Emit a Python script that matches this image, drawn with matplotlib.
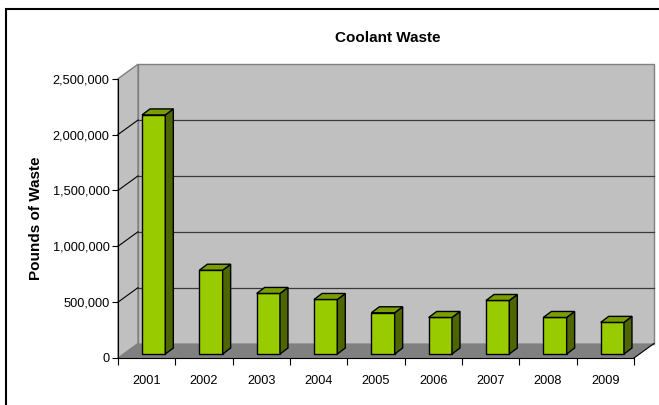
import matplotlib.pyplot as plt
from matplotlib.patches import Polygon, Rectangle
from matplotlib.ticker import FuncFormatter, FixedLocator

plt.rcParams['font.family'] = ['Liberation Sans', 'DejaVu Sans']

years = ['2001', '2002', '2003', '2004', '2005', '2006', '2007', '2008', '2009']
waste = [2140000, 750000, 542000, 488000, 369000, 327000, 479000, 327000, 283000]
yticks = [0, 500000, 1000000, 1500000, 2000000, 2500000]

W, H = 659, 405
fig = plt.figure(figsize=(W / 100, H / 100), dpi=100)

# front plane of the 3d box, in pixels
x0, x1, yb, yt = 118, 634, 358, 78.7
ax = fig.add_axes([x0 / W, 1 - yb / H, (x1 - x0) / W, (yb - yt) / H])
ax.set_xlim(-0.5, len(years) - 0.5)
ax.set_ylim(0, 2500000)
ax.patch.set_visible(False)
for s in ['top', 'right']:
    ax.spines[s].set_visible(False)
ax.spines['left'].set_color('black')
ax.spines['bottom'].set_color('black')
ax.spines['left'].set_zorder(6)
ax.spines['bottom'].set_zorder(6)

# depth of the box and bars, in data units
px_x = (len(years)) / (x1 - x0)
px_y = 2500000 / (yb - yt)
DX, DY = 20 * px_x, 14.5 * px_y
bx, by = 7 * px_x, 4 * px_y
bdx, bdy = 8 * px_x, 6 * px_y
bw = 23.3 * px_x

xl, xr = -0.5, len(years) - 0.5
ytop = 2500000
wall = '#C0C0C0'
edge = '#808080'

# back wall
ax.add_patch(Rectangle((xl + DX, DY), xr - xl, ytop, fc=wall, ec=edge, lw=1, zorder=0, clip_on=False))
# side wall
ax.add_patch(Polygon([(xl, 0), (xl, ytop), (xl + DX, ytop + DY), (xl + DX, DY)],
                     closed=True, fc=wall, ec=edge, lw=1, zorder=0, clip_on=False))
# floor
ax.add_patch(Polygon([(xl, 0), (xr, 0), (xr + DX, DY), (xl + DX, DY)],
                     closed=True, fc='#808080', ec='none', zorder=1, clip_on=False))
ax.plot([xr, xr + DX], [0, DY], color='black', lw=0.8, zorder=2, clip_on=False)

# gridlines
for v in yticks[1:-1]:
    ax.plot([xl + DX, xr + DX], [v + DY, v + DY], color='#3a3a3a', lw=0.9, zorder=1, clip_on=False)
    ax.plot([xl, xl + DX], [v, v + DY], color='black', lw=0.8, zorder=1, clip_on=False)

# bars
xs = list(range(len(years)))
front = ax.bar([x + bx for x in xs], waste, bottom=by, width=bw, color='#99CC00',
               edgecolor='black', linewidth=1, zorder=4, clip_on=False)
for x, v in zip(xs, waste):
    l = x + bx - bw / 2
    r = x + bx + bw / 2
    t = by + v
    ax.add_patch(Polygon([(r, by), (r + bdx, by + bdy), (r + bdx, t + bdy), (r, t)],
                         closed=True, fc='#4D6600', ec='black', lw=1, zorder=4, clip_on=False))
    ax.add_patch(Polygon([(l, t), (r, t), (r + bdx, t + bdy), (l + bdx, t + bdy)],
                         closed=True, fc='#7A9E00', ec='black', lw=1, zorder=4, clip_on=False))

# ticks
ax.yaxis.set_major_locator(FixedLocator(yticks))
ax.yaxis.set_major_formatter(FuncFormatter(lambda v, p: f'{int(v):,}'))
ax.tick_params(axis='y', direction='out', length=4, width=0.8, pad=2, labelsize=9.2)
ax.set_xticks(xs)
ax.set_xticklabels(years)
ax.set_xticks([x - 0.5 for x in xs] + [xr], minor=True)
ax.tick_params(axis='x', which='major', length=0, pad=12, labelsize=9.2)
ax.tick_params(axis='x', which='minor', direction='out', length=5, width=0.8)

fig.text(388 / W, 1 - 41.7 / H, 'Coolant Waste', ha='center', va='baseline',
         fontsize=11, fontweight='bold')
fig.text(36 / W, 1 - 218 / H, 'Pounds of Waste', ha='center', va='center',
         rotation=90, fontsize=11, fontweight='bold')

# outer chart frame (cropped at right and bottom)
fig.patches.append(Rectangle((6 / W, -0.1), 1.2, 1 - 8.5 / H + 0.1, transform=fig.transFigure,
                             fill=False, ec='black', lw=1.5))

fig.savefig('out.png', dpi=100)
